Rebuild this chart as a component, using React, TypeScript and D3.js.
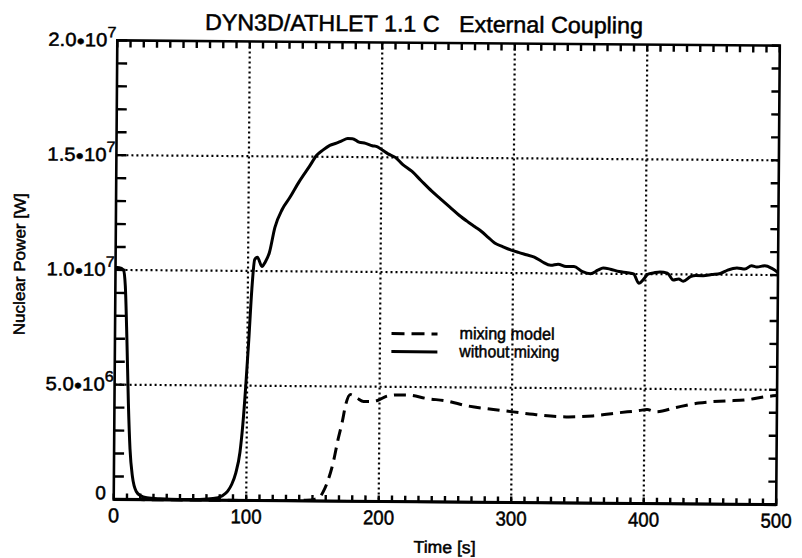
import React from "react";
import * as d3 from "d3";

// Time axis (s) and power (W) samples for the two runs
const solidTime = [0, 3, 6, 7.5, 9, 10.5, 12, 14, 17, 20, 25, 35, 50, 65, 75, 82, 86, 89, 92, 95, 97, 99, 101, 103, 105, 107, 110.5, 113, 116, 120, 125.5, 131, 138, 146, 151, 156, 161, 166, 170, 174.5, 178, 183, 188, 193, 197, 201, 205, 210.5, 216, 223, 230, 238, 245, 252, 259, 266, 271, 276, 281, 286, 292, 298.5, 304, 310, 316, 322, 328.5, 334, 340, 346, 352, 358.5, 364, 368, 373.5, 380, 386.5, 391, 395, 399, 402, 406, 411, 416.5, 421, 425, 428.5, 434, 438, 443.5, 450, 456.5, 462, 469, 475, 480, 484, 490, 495, 499, 500];
const solidPower = [1.01e7, 1.01e7, 1.0e7, 9.3e6, 7.0e6, 4.2e6, 2.2e6, 1.0e6, 0.35e6, 0.18e6, 0.08e6, 0.04e6, 0.02e6, 0.03e6, 0.07e6, 0.2e6, 0.4e6, 0.7e6, 1.2e6, 2.1e6, 3.3e6, 5.0e6, 7.0e6, 9.2e6, 1.05e7, 1.06e7, 1.02e7, 1.04e7, 1.08e7, 1.19e7, 1.27e7, 1.32e7, 1.39e7, 1.46e7, 1.505e7, 1.53e7, 1.55e7, 1.56e7, 1.57e7, 1.58e7, 1.58e7, 1.565e7, 1.56e7, 1.55e7, 1.545e7, 1.53e7, 1.515e7, 1.5e7, 1.47e7, 1.44e7, 1.4e7, 1.355e7, 1.32e7, 1.285e7, 1.25e7, 1.22e7, 1.2e7, 1.18e7, 1.155e7, 1.13e7, 1.115e7, 1.1e7, 1.09e7, 1.08e7, 1.07e7, 1.05e7, 1.035e7, 1.04e7, 1.03e7, 1.03e7, 1.01e7, 1.0e7, 1.015e7, 1.025e7, 1.02e7, 1.01e7, 1.005e7, 1.0e7, 0.96e7, 0.98e7, 1.0e7, 1.005e7, 1.01e7, 1.005e7, 0.975e7, 0.98e7, 0.97e7, 0.99e7, 0.995e7, 0.995e7, 1.0e7, 1.005e7, 1.02e7, 1.03e7, 1.025e7, 1.04e7, 1.035e7, 1.04e7, 1.03e7, 1.015e7, 1.01e7];

const dashedTime = [0, 20, 60, 100, 130, 145, 152, 155.6, 158, 161, 165.5, 169, 172, 174.5, 178, 183, 188, 193, 198.5, 206, 214, 221, 236, 251, 266, 286, 301, 316, 341, 361, 381, 396, 402, 409, 424, 441, 461.5, 476.5, 491.5, 500];
const dashedPower = [0, 0, 0, 0, 0.01e6, 0.03e6, 0.08e6, 0.18e6, 0.4e6, 0.8e6, 1.7e6, 2.7e6, 3.45e6, 4.2e6, 4.65e6, 4.5e6, 4.35e6, 4.35e6, 4.4e6, 4.6e6, 4.65e6, 4.65e6, 4.5e6, 4.4e6, 4.2e6, 4.05e6, 3.95e6, 3.85e6, 3.75e6, 3.8e6, 3.95e6, 4.05e6, 4.1e6, 4.0e6, 4.2e6, 4.4e6, 4.5e6, 4.55e6, 4.7e6, 4.75e6];

const xTicks = [0, 100, 200, 300, 400, 500];
const yTicks = [0, 5e6, 1e7, 1.5e7, 2e7];
const yTickMantissa = ["0", "5.0", "1.0", "1.5", "2.0"];
const yTickExponent = ["", "6", "7", "7", "7"];
const legendLabels = ["mixing model", "without mixing"];

const W = 802;
const H = 558;
const left = 115.5;
const right = 778;
const top = 43;
const bottom = 502;
const FONT = "'Liberation Sans', Arial, Helvetica, sans-serif";
const INK = "#000";

export default function App() {
  const x = d3.scaleLinear().domain([0, 500]).range([left, right]);
  const y = d3.scaleLinear().domain([0, 2e7]).range([bottom, top]);

  const line = d3
    .line<[number, number]>()
    .x((d) => x(d[0]))
    .y((d) => y(d[1]))
    .curve(d3.curveMonotoneX);

  const solidPts = solidTime.map((t, i) => [t, solidPower[i]] as [number, number]);
  const dashedPts = dashedTime.map((t, i) => [t, dashedPower[i]] as [number, number]);

  // inward minor ticks: every 10 s on top/bottom, every 1e6 W on left/right
  const tickPath = d3.path();
  d3.range(0, 501, 10).forEach((t) => {
    tickPath.moveTo(x(t), top);
    tickPath.lineTo(x(t), top + 7);
    tickPath.moveTo(x(t), bottom);
    tickPath.lineTo(x(t), bottom - 6);
  });
  d3.range(0, 2e7 + 1, 1e6).forEach((v) => {
    tickPath.moveTo(left, y(v));
    tickPath.lineTo(left + 10, y(v));
    tickPath.moveTo(right, y(v));
    tickPath.lineTo(right - 8, y(v));
  });

  const textInk = { fill: INK, stroke: INK, strokeWidth: 0.5 };

  return (
    <svg
      width={W}
      height={H}
      style={{ position: "absolute", left: 0, top: 0, background: "#fff" }}
      fontFamily={FONT}
    >
      <rect x={0} y={0} width={W} height={H} fill="#fff" />
      <g transform={`rotate(0.45 ${(left + right) / 2} ${(top + bottom) / 2})`}>
        {/* dotted grid */}
        {xTicks.slice(1, -1).map((t) => (
          <line
            key={"gx" + t}
            x1={x(t)}
            x2={x(t)}
            y1={top}
            y2={bottom}
            stroke={INK}
            strokeWidth={2.2}
            strokeDasharray="2,3"
          />
        ))}
        {yTicks.slice(1, -1).map((v) => (
          <line
            key={"gy" + v}
            x1={left}
            x2={right}
            y1={y(v)}
            y2={y(v)}
            stroke={INK}
            strokeWidth={2.2}
            strokeDasharray="2,3"
          />
        ))}

        <path d={tickPath.toString()} fill="none" stroke={INK} strokeWidth={2.4} />

        {/* curves */}
        <path d={line(dashedPts) ?? ""} fill="none" stroke={INK} strokeWidth={3} strokeDasharray="12,7" />
        <path d={line(solidPts) ?? ""} fill="none" stroke={INK} strokeWidth={3} strokeLinejoin="round" />

        {/* frame */}
        <rect x={left} y={top} width={right - left} height={bottom - top} fill="none" stroke={INK} strokeWidth={2.6} />
        <line x1={left} x2={right} y1={bottom} y2={bottom} stroke={INK} strokeWidth={3.2} />

        {/* x tick labels */}
        {xTicks.map((t) => (
          <text
            key={"lx" + t}
            x={x(t)}
            y={bottom + 23}
            textAnchor="middle"
            fontSize={20}
            textLength={t === 0 ? 11 : 31}
            lengthAdjust="spacingAndGlyphs"
            {...textInk}
          >
            {t}
          </text>
        ))}
        {/* y tick labels */}
        {yTicks.map((v, i) =>
          yTickExponent[i] ? (
            <text
              key={"ly" + v}
              x={left - 69}
              y={y(v) + 6}
              fontSize={19}
              textLength={68}
              lengthAdjust="spacingAndGlyphs"
              {...textInk}
            >
              <tspan>{yTickMantissa[i]}</tspan>
              <tspan fontSize={13} dy={-1}>{"\u25CF"}</tspan>
              <tspan dy={1}>10</tspan>
              <tspan fontSize={15} dy={-9}>
                {yTickExponent[i]}
              </tspan>
            </text>
          ) : (
            <text key={"ly" + v} x={left - 8} y={y(v) + 0} textAnchor="end" fontSize={19} {...textInk}>
              {yTickMantissa[i]}
            </text>
          )
        )}

        {/* axis titles */}
        <text
          x={(left + right) / 2}
          y={553}
          textAnchor="middle"
          fontSize={17}
          textLength={62}
          lengthAdjust="spacingAndGlyphs"
          {...textInk}
        >
          Time [s]
        </text>
        <text
          transform={`translate(25 ${(top + bottom) / 2 - 5}) rotate(-90)`}
          textAnchor="middle"
          fontSize={16}
          textLength={142}
          lengthAdjust="spacingAndGlyphs"
          {...textInk}
        >
          Nuclear Power [W]
        </text>

        {/* title */}
        <text
          x={422}
          y={32}
          textAnchor="middle"
          fontSize={23}
          textLength={438}
          lengthAdjust="spacingAndGlyphs"
          {...textInk}
        >
          DYN3D/ATHLET 1.1 C{"\u00A0\u00A0\u00A0"}External Coupling
        </text>

        {/* legend */}
        <line x1={392} x2={438} y1={334} y2={334} stroke={INK} strokeWidth={3} strokeDasharray="13,7" />
        <text x={460} y={339} fontSize={17} textLength={95} lengthAdjust="spacingAndGlyphs" {...textInk}>
          {legendLabels[0]}
        </text>
        <line x1={392} x2={438} y1={352} y2={352} stroke={INK} strokeWidth={3} />
        <text x={460} y={357} fontSize={17} textLength={100} lengthAdjust="spacingAndGlyphs" {...textInk}>
          {legendLabels[1]}
        </text>
      </g>
    </svg>
  );
}
